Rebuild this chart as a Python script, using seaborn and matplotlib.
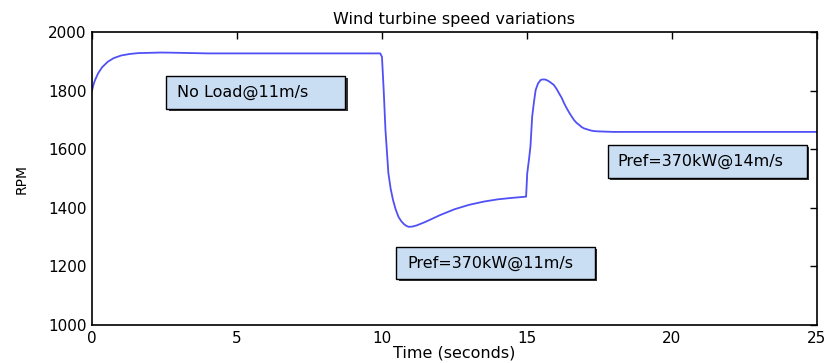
import matplotlib
matplotlib.use("Agg")
import matplotlib.pyplot as plt
import seaborn as sns
import pandas as pd
from matplotlib.patches import Rectangle

# ---- data ----
time_s = [0.0, 0.05, 0.1, 0.21, 0.35, 0.55, 0.75, 1.01, 1.3, 1.59, 2.0, 2.38, 3.0, 4.0,
          6.0, 8.0, 9.94, 10.0, 10.06, 10.12, 10.22, 10.3, 10.38, 10.47, 10.57, 10.66,
          10.75, 10.83, 10.92, 11.05, 11.2, 11.5, 12.0, 12.5, 13.0, 13.5, 14.0, 14.5,
          14.97, 15.01, 15.07, 15.12, 15.18, 15.24, 15.3, 15.38, 15.47, 15.53, 15.62,
          15.7, 15.8, 15.93, 16.02, 16.1, 16.2, 16.28, 16.37, 16.45, 16.54, 16.62,
          16.71, 16.8, 16.88, 16.97, 17.1, 17.2, 17.3, 17.43, 17.7, 18.0, 20.0, 25.0]
rpm = [1800, 1820, 1835, 1859, 1880, 1899, 1911, 1920, 1925, 1928, 1929, 1930, 1929, 1927,
       1927, 1927, 1927, 1915, 1800, 1666, 1519, 1465, 1427, 1395, 1369, 1355,
       1345, 1339, 1335, 1336, 1340, 1352, 1375, 1395, 1410, 1421, 1429, 1434,
       1438, 1518, 1565, 1609, 1711, 1760, 1802, 1824, 1836, 1838, 1838,
       1835, 1829, 1819, 1806, 1792, 1775, 1757, 1740, 1726, 1712, 1700,
       1690, 1683, 1676, 1671, 1667, 1664, 1662, 1661, 1660, 1659, 1659, 1659]

x_ticks = [0, 5, 10, 15, 20, 25]
y_ticks = [1000, 1200, 1400, 1600, 1800, 2000]

labels = ["No Load@11m/s", "Pref=370kW@11m/s", "Pref=370kW@14m/s"]
title = "Wind turbine speed variations"
xlabel = "Time (seconds)"
ylabel = "RPM"

df = pd.DataFrame({"t": time_s, "rpm": rpm})

sns.set_style("white")
plt.rcParams["font.family"] = ["DejaVu Sans"]
plt.rcParams["text.color"] = "black"
plt.rcParams["axes.labelcolor"] = "black"
plt.rcParams["xtick.color"] = "black"
plt.rcParams["ytick.color"] = "black"

fig = plt.figure(figsize=(8.26, 3.63), dpi=100)
ax = fig.add_axes([0.1114, 0.1047, 0.8776, 0.8071])

sns.lineplot(data=df, x="t", y="rpm", ax=ax, color="#5050f5", linewidth=1.3)

ax.set_xlim(0, 25)
ax.set_ylim(1000, 2000)
ax.set_xticks(x_ticks)
ax.set_yticks(y_ticks)
ax.set_xticklabels([str(v) for v in x_ticks], fontsize=11)
ax.set_yticklabels([str(v) for v in y_ticks], fontsize=11)
ax.tick_params(direction="in", top=True, right=True, length=5, width=1.0, pad=4,
               colors="black")
for s in ax.spines.values():
    s.set_linewidth(1.2)
    s.set_color("black")

ax.set_title(title, fontsize=11.5, pad=6, color="black")
ax.set_xlabel(xlabel, fontsize=11.5, labelpad=0, color="black")
ax.set_ylabel(ylabel, fontsize=10, color="black")
ax.yaxis.set_label_coords(-0.088, 0.5)

# annotation boxes (data coords: x0, y0, x1, y1, text x)
boxes = [
    (2.56, 1737, 8.74, 1850, 2.94),
    (10.50, 1157, 17.33, 1266, 10.88),
    (17.78, 1502, 24.65, 1614, 18.13),
]
for (x0, y0, x1, y1, tx), lab in zip(boxes, labels):
    # shadow
    ax.add_patch(Rectangle((x0 + 0.08, y0 - 6), x1 - x0, y1 - y0,
                           facecolor="#333333", edgecolor="none", zorder=3))
    ax.add_patch(Rectangle((x0, y0), x1 - x0, y1 - y0,
                           facecolor="#c9ddf3", edgecolor="black",
                           linewidth=1.0, zorder=4))
    ax.text(tx, (y0 + y1) / 2, lab, fontsize=11.5, va="center", ha="left",
            zorder=5, color="black")

fig.savefig("out.png", dpi=100)
